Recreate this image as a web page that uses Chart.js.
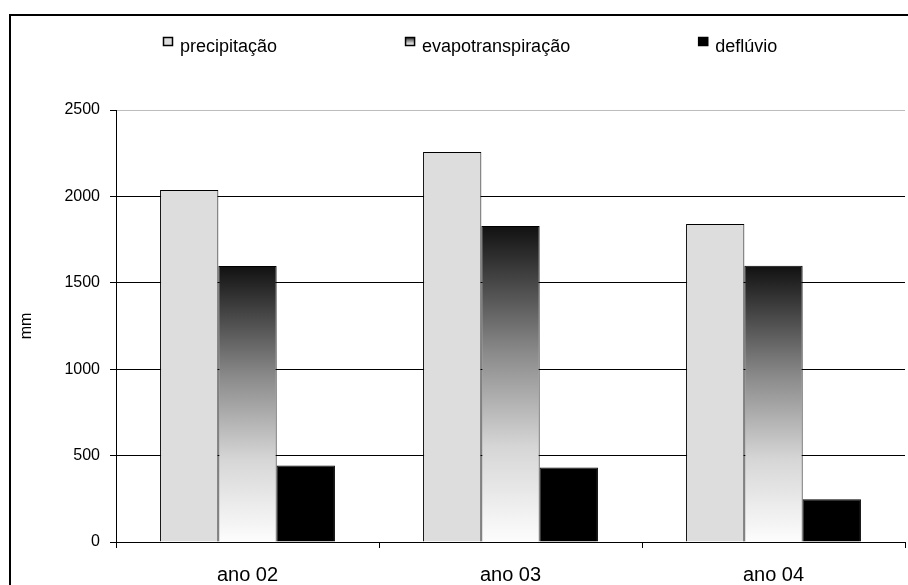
<!DOCTYPE html>
<html>
<head>
<meta charset="utf-8">
<script src="https://cdn.jsdelivr.net/npm/chart.js@4/dist/chart.umd.min.js"></script>
<style>
  html, body { margin: 0; padding: 0; background: #fff; }
  canvas { display: block; }
</style>
</head>
<body>
<canvas id="chart" width="908" height="585"></canvas>
<script>
// Annual water balance (mm)
const categories = ['ano 02', 'ano 03', 'ano 04'];
const seriesNames = ['precipitação', 'evapotranspiração', 'deflúvio'];
const precipitacao = [2037, 2257, 1840];
const evapotranspiracao = [1597, 1829, 1599];
const defluvio = [443, 431, 247];
const yTicks = [0, 500, 1000, 1500, 2000, 2500];

const FONT = '"Liberation Sans", Arial, Helvetica, sans-serif';

// dark-to-light vertical shading used for the evapotranspiration bars
const shadeStops = [[0, '#111111'], [0.4, '#8a8a8a'], [0.7, '#d6d6d6'], [1, '#fdfdfd']];

function makeShade(ctx, top, bottom) {
  const g = ctx.createLinearGradient(0, top, 0, bottom);
  shadeStops.forEach(([o, c]) => g.addColorStop(o, c));
  return g;
}

function evapoFill(context) {
  const chart = context.chart;
  const y = chart.scales && chart.scales.y;
  if (!chart.chartArea || !y || context.type !== 'data') return '#888888';
  const top = y.getPixelForValue(context.raw);
  const bottom = y.getPixelForValue(0);
  return makeShade(chart.ctx, top, bottom);
}

// white page with a heavy frame running off the right and bottom edges
const framePlugin = {
  id: 'frame',
  beforeDraw(chart) {
    const c = chart.ctx;
    c.save();
    c.fillStyle = '#ffffff';
    c.fillRect(0, 0, chart.width, chart.height);
    c.strokeStyle = '#000000';
    c.lineWidth = 2;
    c.strokeRect(10, 15, chart.width + 40, chart.height + 40);
    c.restore();
  }
};

// single-row legend across the top
const legendPlugin = {
  id: 'topLegend',
  afterDraw(chart) {
    const c = chart.ctx;
    const fontSize = 18;
    const box = 10, boxH = 9, gap = 7, spacing = 128;
    let x = 163;
    const boxTop = 37;
    const baseline = 51.5;
    c.save();
    c.font = fontSize + 'px ' + FONT;
    c.textBaseline = 'alphabetic';
    c.textAlign = 'left';
    chart.data.datasets.forEach((ds) => {
      let fill = ds.backgroundColor;
      if (typeof fill === 'function') fill = makeShade(c, boxTop, boxTop + boxH);
      c.fillStyle = fill;
      c.fillRect(x, boxTop, box, boxH);
      c.strokeStyle = '#000000';
      c.lineWidth = 1.5;
      c.strokeRect(x + 0.5, boxTop + 0.5, box - 1, boxH - 1);
      c.fillStyle = '#000000';
      c.fillText(ds.label, x + box + gap, baseline);
      const w = c.measureText(ds.label).width;
      x += box + gap + w + spacing;
    });
    c.restore();
  }
};

const barCommon = {
  borderColor: '#000000',
  borderWidth: 1,
  categoryPercentage: 0.665,
  barPercentage: 1.0
};

new Chart(document.getElementById('chart'), {
  type: 'bar',
  data: {
    labels: categories,
    datasets: [
      Object.assign({ label: seriesNames[0], data: precipitacao, backgroundColor: '#dddddd' }, barCommon),
      Object.assign({ label: seriesNames[1], data: evapotranspiracao, backgroundColor: evapoFill }, barCommon),
      Object.assign({ label: seriesNames[2], data: defluvio, backgroundColor: '#000000' }, barCommon)
    ]
  },
  options: {
    responsive: false,
    animation: false,
    devicePixelRatio: 1,
    layout: { padding: { top: 110, right: 3, bottom: 0, left: 0 } },
    plugins: {
      legend: { display: false },
      tooltip: { enabled: false }
    },
    scales: {
      x: {
        offset: true,
        grid: {
          display: true,
          drawOnChartArea: false,
          offset: true,
          tickLength: 6,
          color: '#000000',
          lineWidth: 1
        },
        border: { display: true, color: '#000000', width: 1 },
        ticks: {
          color: '#000000',
          font: { family: FONT, size: 20 },
          padding: 15,
          maxRotation: 0
        },
        afterFit(scale) { scale.height = 43; }
      },
      y: {
        min: 0,
        max: 2500,
        afterBuildTicks(scale) { scale.ticks = yTicks.map(v => ({ value: v })); },
        grid: {
          color: (ctx) => (ctx.tick && ctx.tick.value === 2500 ? '#bdbdbd' : '#000000'),
          tickColor: '#000000',
          tickLength: 6,
          lineWidth: 1
        },
        border: { display: true, color: '#000000', width: 1 },
        ticks: {
          color: '#000000',
          font: { family: FONT, size: 16 },
          padding: 10,
          callback: (v) => String(v)
        },
        title: {
          display: true,
          text: 'mm',
          color: '#000000',
          font: { family: FONT, size: 16 },
          padding: { top: 17, bottom: 0 }
        },
        afterFit(scale) { scale.width = 116; }
      }
    }
  },
  plugins: [framePlugin, legendPlugin]
});
</script>
</body>
</html>
